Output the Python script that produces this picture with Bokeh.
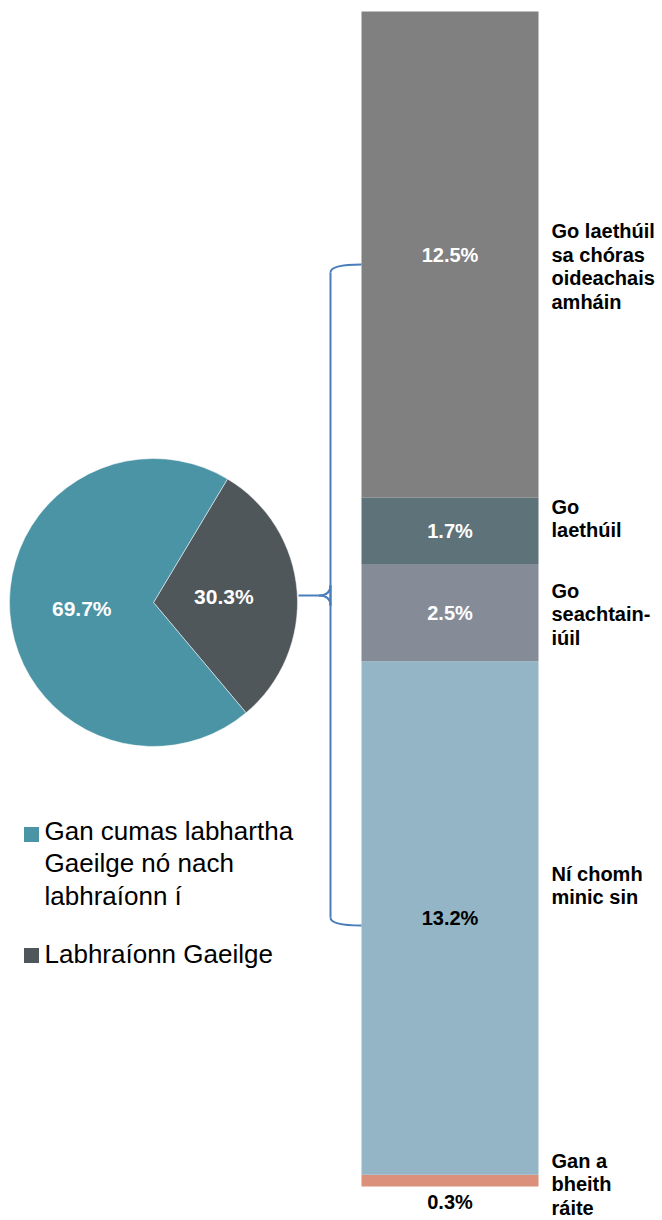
import numpy as np
from bokeh.plotting import figure
from bokeh.models import Range1d, ColumnDataSource
from bokeh.core.properties import value
from bokeh.embed import file_html
from bokeh.resources import INLINE

# ---- data ----
pie_labels = ["Gan cumas labhartha\nGaeilge nó nach\nlabhraíonn í", "Labhraíonn Gaeilge"]
pie_values = [69.7, 30.3]
pie_colors = ["#4A94A5", "#4F575B"]

bar_categories = ["Gan a\nbheith\nráite", "Ní chomh\nminic sin", "Go\nseachtain-\niúil",
                  "Go\nlaethúil", "Go laethúil\nsa chóras\noideachais\namháin"]
bar_values = [0.3, 13.2, 2.5, 1.7, 12.5]
bar_colors = ["#DA907A", "#93B5C6", "#858C98", "#5E7279", "#808080"]
bar_label_colors = ["black", "black", "white", "white", "white"]

W, H = 662, 1220
FONT = value("Liberation Sans")

p = figure(width=W, height=H, output_backend="svg", toolbar_location=None,
           x_range=Range1d(0, W), y_range=Range1d(0, H), min_border=0)
p.axis.visible = False
p.grid.visible = False
p.outline_line_color = None

def Y(img_y):
    return H - img_y

# ---- pie ----
deg = np.pi / 180
start0 = -50 * deg
fr = np.array(pie_values) / sum(pie_values)
order = [1, 0]
starts, ends = [], []
a = start0
for i in order:
    starts.append(a)
    a = a + fr[i] * 2 * np.pi
    ends.append(a)
pie_src = ColumnDataSource(dict(start=starts, end=ends,
                                color=[pie_colors[i] for i in order]))
cx, cy, r = 153, Y(602), 144
p.wedge(x=cx, y=cy, radius=r, start_angle="start", end_angle="end",
        fill_color="color", line_color="white", line_width=0.5, source=pie_src)
mid = [(s + e) / 2 for s, e in zip(starts, ends)]
lab_r = [0.49 * r, 0.5 * r]
px = [cx + rr * np.cos(m) for rr, m in zip(lab_r, mid)]
py = [cy + rr * np.sin(m) for rr, m in zip(lab_r, mid)]
p.text(x=px, y=py, text=[f"{pie_values[i]}%" for i in order], text_color="white",
       text_font=FONT, text_font_style="bold", text_font_size="21px",
       text_align="center", text_baseline="middle")

# ---- stacked bar (percent scale) ----
px_per = 1175 / sum(bar_values)
bottom_px = H - 1186  # pixel height of 0% above bottom of frame
p.extra_y_ranges = {"pct": Range1d(-bottom_px / px_per, (H - bottom_px) / px_per)}
cum = np.cumsum([0] + bar_values)
bsrc = ColumnDataSource(dict(bottom=cum[:-1], top=cum[1:], color=bar_colors))
p.vbar(x=449.5, width=177, bottom="bottom", top="top", fill_color="color",
       line_color=None, y_range_name="pct", source=bsrc)
mids = list((cum[:-1] + cum[1:]) / 2)
ys = mids[:]
ys[0] = 0
offs = [15, 0, 0, 0, 0]
for i in range(len(bar_values)):
    p.text(x=[449.5], y=[ys[i]], text=[f"{bar_values[i]}%"], y_range_name="pct",
           y_offset=offs[i], text_color=bar_label_colors[i], text_font=FONT,
           text_font_style="bold", text_font_size="20px",
           text_align="center", text_baseline="middle")

# ---- category labels to right of bar ----
img_centers = [1184, 885, 614, 518, 266]
p.text(x=[551] * 5, y=[Y(c) for c in img_centers], text=bar_categories,
       text_color="black", text_font=FONT, text_font_style="bold",
       text_font_size="20px", text_line_height=1.08,
       text_align="left", text_baseline="middle")

# ---- bracket ----
bc = "#4A7EBB"
xv, xt, xb = 330, 298, 361
ytop, ymid, ybot = Y(264), Y(595), Y(925)
p.segment(x0=[xv, xv], y0=[ytop - 8, ymid + 10], x1=[xv, xv], y1=[ymid - 10, ybot + 8],
          line_color=bc, line_width=2)
p.quadratic(x0=[xb, xv, xv, xb], y0=[ytop, ymid + 10, ymid - 10, ybot],
            x1=[xv, xt + 20, xt + 20, xv], y1=[ytop - 8, ymid, ymid, ybot + 8],
            cx=[xv, xv, xv, xv], cy=[ytop, ymid, ymid, ybot],
            line_color=bc, line_width=2)
p.segment(x0=[xt], y0=[ymid], x1=[xt + 20], y1=[ymid], line_color=bc, line_width=2)

# ---- legend ----
leg_sq_y = [Y(834), Y(955)]
leg_txt_y = [Y(863), Y(953)]
p.rect(x=[31, 31], y=leg_sq_y, width=15, height=15, fill_color=pie_colors,
       line_color=None)
p.text(x=[44, 44], y=leg_txt_y, text=pie_labels, text_color="black", text_font=FONT,
       text_font_size="26px", text_line_height=1.08, text_align="left",
       text_baseline="middle")

open("out.html", "w").write(file_html(p, INLINE))
